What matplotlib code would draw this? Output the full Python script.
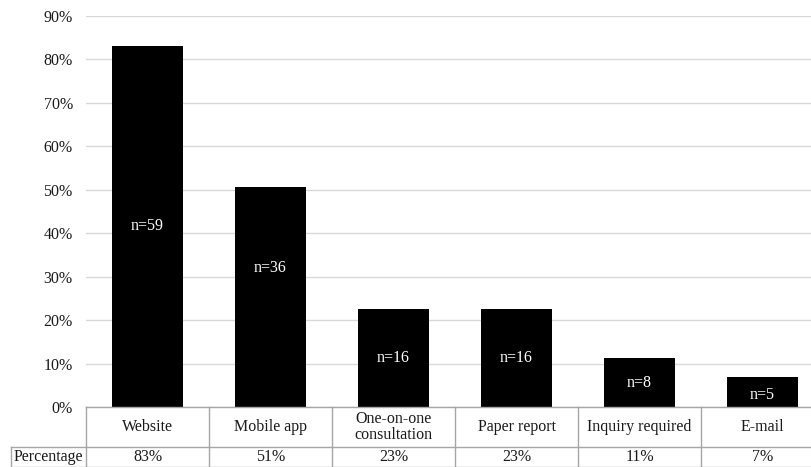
import matplotlib
matplotlib.use("Agg")
import matplotlib.pyplot as plt
from matplotlib.transforms import blended_transform_factory

categories = ["Website", "Mobile app", "One-on-one\nconsultation", "Paper report",
              "Inquiry required", "E-mail"]
percent = [83.1, 50.7, 22.5, 22.5, 11.3, 7.0]
counts = [59, 36, 16, 16, 8, 5]
pct_labels = ["83%", "51%", "23%", "23%", "11%", "7%"]
yticks = [0, 10, 20, 30, 40, 50, 60, 70, 80, 90]

# vertical placement of the n= labels, as a fraction of each bar's height
label_frac = [0.5, 0.63, 0.5, 0.5, 0.49, 0.40]

plt.rcParams["font.family"] = ["Liberation Serif", "DejaVu Serif"]
FS = 11.5
GRID = "#d9d9d9"
BORDER = "#a6a6a6"
TEXT = "#1a1a1a"

W, H = 811, 467
fig = plt.figure(figsize=(W / 100, H / 100), dpi=100)
left_px, right_px, top_px, bottom_px = 86, 824, 16, 407
ax = fig.add_axes([left_px / W, 1 - bottom_px / H,
                   (right_px - left_px) / W, (bottom_px - top_px) / H])

x = list(range(len(categories)))
ax.bar(x, percent, width=0.585, color="black", zorder=3)
for xi, p, n, f in zip(x, percent, counts, label_frac):
    ax.text(xi, p * f, f"n={n}", color="white", ha="center", va="center",
            fontsize=FS, zorder=4)

ax.set_xlim(-0.5, len(categories) - 0.5)
ax.set_ylim(0, 90)
ax.set_yticks(yticks)
ax.set_yticklabels([f"{t}%" for t in yticks], fontsize=FS, color=TEXT)
ax.yaxis.grid(True, color=GRID, linewidth=1.0, zorder=0)
ax.set_xticks([])
ax.tick_params(axis="y", length=0, pad=9.5)
for s in ax.spines.values():
    s.set_visible(False)

# data table underneath the plot
axh = bottom_px - top_px
row1 = -40 / axh
row2 = -60 / axh
trans = blended_transform_factory(ax.transData, ax.transAxes)
lw = 1.0
label_left = -0.5 - 75 / 123

ax.plot([-0.5, len(categories) - 0.5], [0, 0], color=BORDER, lw=lw,
        transform=trans, clip_on=False, zorder=5)
ax.plot([label_left, len(categories) - 0.5], [row1, row1], color=BORDER, lw=lw,
        transform=trans, clip_on=False)
ax.plot([label_left, len(categories) - 0.5], [row2, row2], color=BORDER, lw=lw,
        transform=trans, clip_on=False)
ax.plot([label_left, label_left], [row1, row2], color=BORDER, lw=lw,
        transform=trans, clip_on=False)
for b in range(len(categories) + 1):
    ax.plot([b - 0.5, b - 0.5], [0, row2], color=BORDER, lw=lw,
            transform=trans, clip_on=False)

for xi, c, pl in zip(x, categories, pct_labels):
    ax.text(xi, row1 / 2, c, ha="center", va="center", fontsize=FS,
            transform=trans, linespacing=0.95, color=TEXT)
    ax.text(xi, (row1 + row2) / 2, pl, ha="center", va="center", fontsize=FS,
            transform=trans, color=TEXT)
ax.text((label_left + -0.5) / 2, (row1 + row2) / 2, "Percentage", ha="center",
        va="center", fontsize=FS, transform=trans, color=TEXT)

fig.savefig("out.png", dpi=100)
